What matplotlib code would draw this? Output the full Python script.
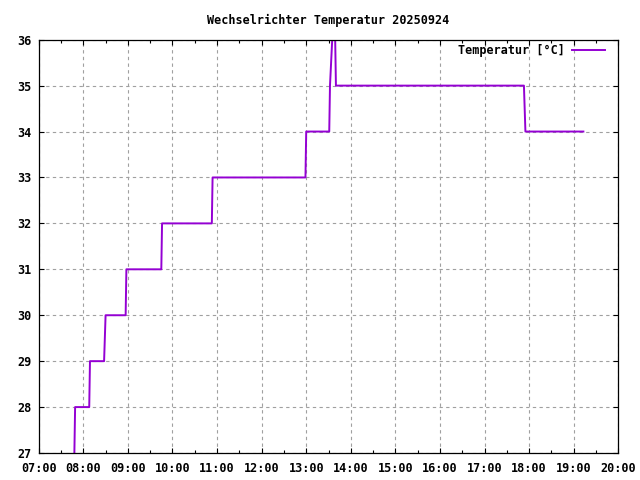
import matplotlib
matplotlib.use("Agg")
import matplotlib.pyplot as plt
import matplotlib.dates as mdates
import pandas as pd

title = "Wechselrichter Temperatur 20250924"
series_label = "Temperatur [°C]"
day = "2025-09-24"
times = ["07:48", "07:49", "08:08", "08:09", "08:28", "08:30", "08:57", "08:58",
         "09:45", "09:46", "10:53", "10:54", "12:59", "13:00", "13:31", "13:32",
         "13:35", "13:36", "13:38", "13:39", "13:40", "17:53", "17:55", "19:13"]
temps = [27, 28, 28, 29, 29, 30, 30, 31,
         31, 32, 32, 33, 33, 34, 34, 35,
         36, 37, 37, 36, 35, 35, 34, 34]
x_start, x_end = "07:00", "20:00"
y_min, y_max = 27, 36

x = pd.to_datetime([f"{day} {t}" for t in times])

font = "DejaVu Sans Mono"
fs = 8.5

fig = plt.figure(figsize=(6.4, 4.8), dpi=100)
ax = fig.add_axes([38.7 / 640, 1 - 453 / 480, (618.3 - 38.7) / 640, (453 - 39.7) / 480])

ax.plot(x, temps, color="#9400D3", lw=1.4, label=series_label, zorder=3)

ax.set_xlim(pd.Timestamp(f"{day} {x_start}"), pd.Timestamp(f"{day} {x_end}"))
ax.set_ylim(y_min, y_max)
ax.xaxis.set_major_locator(mdates.HourLocator())
ax.xaxis.set_minor_locator(mdates.MinuteLocator(byminute=[30]))
ax.xaxis.set_major_formatter(mdates.DateFormatter("%H:%M"))
ax.yaxis.set_major_locator(matplotlib.ticker.MultipleLocator(1))

ax.grid(True, which="major", color="#a0a0a0", linestyle=(0, (3, 3)), lw=0.8, zorder=1)
ax.tick_params(which="both", direction="in", top=True, right=True, width=0.8)
ax.tick_params(which="major", length=3.6)
ax.tick_params(which="minor", length=2.2)
ax.tick_params(axis="x", pad=6.5)
ax.tick_params(axis="y", pad=5)
for lab in ax.get_xticklabels() + ax.get_yticklabels():
    lab.set_fontfamily(font)
    lab.set_fontweight("bold")
    lab.set_fontsize(fs)
for s in ax.spines.values():
    s.set_linewidth(0.9)
    s.set_zorder(4)

ax.set_title(title, fontfamily=font, fontweight="bold", fontsize=fs, pad=11)

leg = ax.legend(loc="upper right", bbox_to_anchor=(0.977, 0.99), frameon=False,
                markerfirst=False, handlelength=2.8, handletextpad=0.6,
                borderaxespad=0, borderpad=0,
                prop={"family": font, "weight": "bold", "size": fs})

fig.savefig("out.png", dpi=100)
